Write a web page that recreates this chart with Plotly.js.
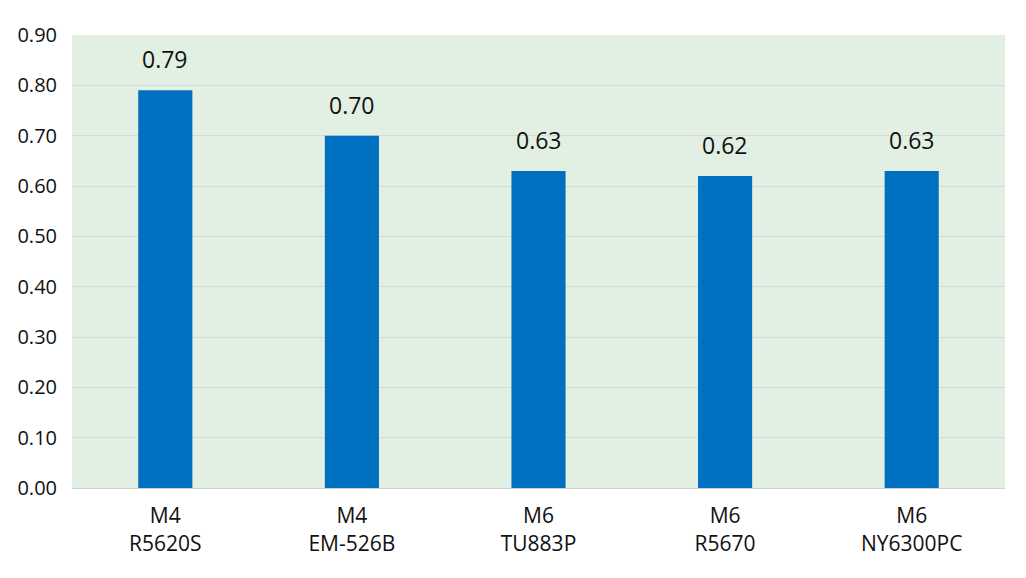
<!DOCTYPE html>
<html><head><meta charset="utf-8">
<script src="https://cdn.plot.ly/plotly-3.0.1.min.js"></script>
<style>html,body{margin:0;padding:0;background:#fff}#chart{width:1026px;height:578px}</style>
</head><body><div id="chart"></div>
<script>
const categories = ["M4<br>R5620S", "M4<br>EM-526B", "M6<br>TU883P", "M6<br>R5670", "M6<br>NY6300PC"];
const values = [0.79, 0.70, 0.63, 0.62, 0.63];
const labels = ["0.79", "0.70", "0.63", "0.62", "0.63"];
const yTicks = [0, 0.1, 0.2, 0.3, 0.4, 0.5, 0.6, 0.7, 0.8, 0.9];

const font = "Open Sans, Noto Sans, sans-serif";
const trace = {
  type: "bar", x: categories, y: values,
  marker: {color: "#0070C0"}, width: 0.29, hoverinfo: "skip"
};
const annotations = categories.map((c, i) => ({
  x: c, y: values[i], text: labels[i], showarrow: false,
  yanchor: "bottom", yshift: 13, font: {family: font, size: 23, color: "#111"}
}));
Plotly.newPlot("chart", [trace], {
  width: 1026, height: 578,
  margin: {l: 72, r: 21, t: 35, b: 90},
  paper_bgcolor: "#ffffff", plot_bgcolor: "#E2F0E3",
  font: {family: font, color: "#111"},
  showlegend: false,
  xaxis: {tickfont: {size: 21, family: font, color: "#111"}, showline: true, linecolor: "#D0D0D0", linewidth: 1, ticks: "", ticklabelstandoff: 9},
  yaxis: {range: [0, 0.9], tickvals: yTicks, tickformat: ".2f", tickfont: {size: 20, family: font, color: "#111"},
          gridcolor: "#D9D9D9", gridwidth: 1, zeroline: false, ticks: "", ticklabelstandoff: 14, showline: false},
  annotations: annotations
}, {staticPlot: true});
</script></body></html>
